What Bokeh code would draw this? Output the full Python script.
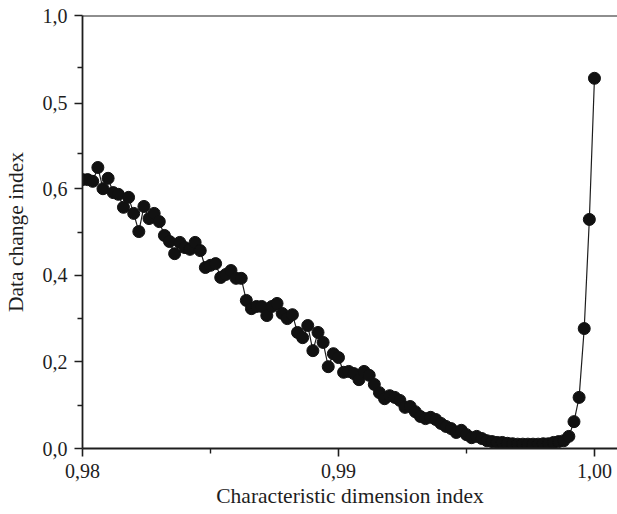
from bokeh.plotting import figure
from bokeh.models import Range1d, FixedTicker, Span
from bokeh.embed import file_html
from bokeh.resources import INLINE

# ---- data ----
x_start = 0.98
x_step = 0.0002
change_index = [
    0.621, 0.621, 0.617, 0.649, 0.600, 0.624, 0.591, 0.587, 0.557, 0.580,
    0.543, 0.501, 0.559, 0.531, 0.543, 0.524, 0.492, 0.478, 0.450, 0.476,
    0.464, 0.460, 0.476, 0.457, 0.418, 0.423, 0.427, 0.395, 0.402, 0.411,
    0.393, 0.393, 0.342, 0.323, 0.328, 0.328, 0.307, 0.328, 0.335, 0.312,
    0.300, 0.309, 0.268, 0.256, 0.284, 0.226, 0.268, 0.245, 0.189, 0.219,
    0.210, 0.176, 0.178, 0.173, 0.159, 0.178, 0.169, 0.148, 0.129, 0.115,
    0.122, 0.118, 0.111, 0.095, 0.097, 0.085, 0.074, 0.069, 0.072, 0.067,
    0.058, 0.051, 0.046, 0.037, 0.042, 0.032, 0.025, 0.028, 0.023, 0.018,
    0.016, 0.014, 0.014, 0.012, 0.011, 0.010, 0.010, 0.010, 0.010, 0.010,
    0.011, 0.011, 0.014, 0.016, 0.018, 0.028, 0.062, 0.118, 0.277, 0.529,
    0.855,
]
dimension_index = [round(x_start + i * x_step, 4) for i in range(len(change_index))]

x_ticks = [0.98, 0.99, 1.00]
x_tick_labels = ["0,98", "0,99", "1,00"]
x_minor = [0.985, 0.995]
y_ticks = [0.0, 0.2, 0.4, 0.6, 0.797, 1.0]
y_tick_labels = ["0,0", "0,2", "0,4", "0,6", "0,5", "1,0"]
y_minor = [0.1, 0.3, 0.5, 0.681, 0.88]

FONT = "Liberation Serif"
INK = "#1e1e1e"

p = figure(width=617, height=514, output_backend="svg", toolbar_location=None,
           x_range=Range1d(0.98, 1.0009), y_range=Range1d(0.0, 1.0),
           min_border_left=82, min_border_right=0, min_border_top=15,
           min_border_bottom=66)
p.outline_line_color = None
p.grid.grid_line_color = None
p.background_fill_color = "white"
p.border_fill_color = "white"

p.line(dimension_index, change_index, line_color=INK, line_width=1.2)
p.scatter(dimension_index, change_index, size=12, fill_color="#111111",
          line_color="#111111")

p.add_layout(Span(location=1.0, dimension="width", line_color=INK, line_width=1.8))

xa = p.xaxis[0]
xa.ticker = FixedTicker(ticks=x_ticks, minor_ticks=x_minor)
xa.major_label_overrides = dict(zip(x_ticks, x_tick_labels))
xa.axis_label = "Characteristic dimension index"

ya = p.yaxis[0]
ya.ticker = FixedTicker(ticks=y_ticks, minor_ticks=y_minor)
ya.major_label_overrides = dict(zip(y_ticks, y_tick_labels))
ya.axis_label = "Data change index"

for ax in (xa, ya):
    ax.axis_line_color = INK
    ax.axis_line_width = 1.8
    ax.major_tick_line_color = INK
    ax.major_tick_line_width = 1.6
    ax.minor_tick_line_color = INK
    ax.minor_tick_line_width = 1.4
    ax.major_tick_in = 0
    ax.major_tick_out = 8
    ax.minor_tick_in = 0
    ax.minor_tick_out = 5
    ax.major_label_text_font = FONT
    ax.major_label_text_font_size = "20px"
    ax.major_label_text_color = INK
    ax.axis_label_text_font = FONT
    ax.axis_label_text_font_size = "21.5px"
    ax.axis_label_text_font_style = "normal"
    ax.axis_label_text_color = INK

xa.major_label_standoff = 7
xa.axis_label_standoff = 3
ya.major_label_standoff = 7
ya.axis_label_standoff = 12

open("out.html", "w").write(file_html(p, INLINE))
